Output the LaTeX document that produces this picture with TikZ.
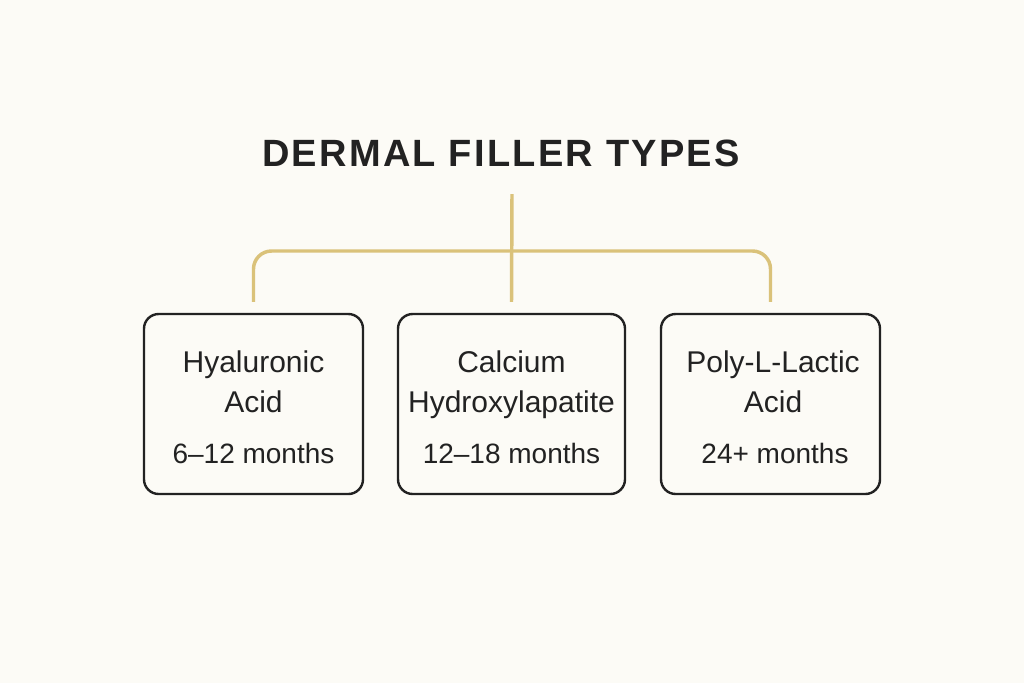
\documentclass[tikz,border=0pt]{standalone}
\usepackage{fontspec}
\setmainfont{Liberation Sans}
\newfontfamily\headfont[LetterSpace=6]{Liberation Sans}

\definecolor{paper}{RGB}{252,251,246}
\definecolor{gold}{RGB}{218,194,122}
\definecolor{ink}{RGB}{34,34,34}

\tikzset{every picture/.style={line width=0.75pt}}
\tikzset{
  card/.style={draw=ink, line width=1.8pt, rounded corners=11pt, fill=paper, minimum height=135pt, inner sep=0pt},
  branch/.style={draw=gold, line width=2.6pt},
  txt/.style={anchor=base, inner sep=0pt, text=ink, font=\fontsize{22.5}{26}\selectfont},
  span/.style={anchor=base, inner sep=0pt, text=ink, font=\fontsize{21}{25}\selectfont},
}

\begin{document}
\begin{tikzpicture}[x=0.75pt,y=0.75pt,yscale=-1,xscale=1]

\fill [paper] (0,0) rectangle (1024,683) ;
\useasboundingbox (0,0) rectangle (1024,683) ;

\node [txt, font=\headfont\bfseries\fontsize{28.5}{32}\selectfont] (title) at (501,166) {DERMAL FILLER TYPES};

\coordinate (stem) at (512,194) ;
\coordinate (hub) at (512,251) ;

\node [card, minimum width=164.25pt] (hya) at (253.5,404) {};
\node [card, minimum width=170.25pt] (cah) at (511.5,404) {};
\node [card, minimum width=164.25pt] (plla) at (770.5,404) {};

\draw [branch] (stem) -- ([yshift=-8.25pt]cah.north) ;
\draw [branch, rounded corners=13.5pt] ([yshift=-8.25pt]hya.north) |- (hub) -| ([yshift=-8.25pt]plla.north) ;

\node [txt] (hyaName) at (253.5,372) {Hyaluronic};
\node [txt] (hyaAcid) at (253.5,412) {Acid};
\node [span] (hyaTime) at (253.5,463) {6--12 months};

\node [txt] (cahName) at (511.5,372) {Calcium};
\node [txt] (cahHydro) at (511.5,412) {Hydroxylapatite};
\node [span] (cahTime) at (511.5,463) {12--18 months};

\node [txt] (pllaName) at (773,372) {Poly-L-Lactic};
\node [txt] (pllaAcid) at (773,412) {Acid};
\node [span] (pllaTime) at (775,463) {24+ months};

\end{tikzpicture}
\end{document}
